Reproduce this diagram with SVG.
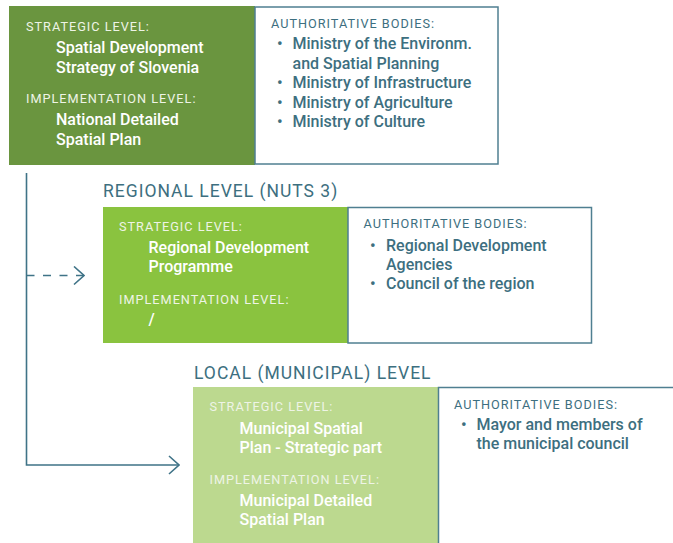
<svg xmlns="http://www.w3.org/2000/svg" width="673" height="543" viewBox="0 0 673 543">
<defs>
<style>
.lbl{font-family:Roboto,"Liberation Sans",sans-serif;font-size:12.7px;fill:#eef4e6;letter-spacing:1px}
.main{font-family:Roboto,"Liberation Sans",sans-serif;font-size:16px;font-weight:500;fill:#ffffff}
.alb{font-family:Roboto,"Liberation Sans",sans-serif;font-size:12.7px;fill:#3d6f80;letter-spacing:1px}
.auth{font-family:Roboto,"Liberation Sans",sans-serif;font-size:16px;font-weight:500;fill:#3d6f80}
.ttl{font-family:Roboto,"Liberation Sans",sans-serif;font-size:17.5px;fill:#3d6f80;letter-spacing:1px}
.wbox{fill:#ffffff;stroke:#4f7f91;stroke-width:1.5}
.conn{fill:none;stroke:#3f7387;stroke-width:1.6}
</style>
<marker id="chev" viewBox="0 0 12 20" refX="11" refY="10" markerWidth="12" markerHeight="20" markerUnits="userSpaceOnUse" orient="auto">
<path d="M1,1 L11,10 L1,19" fill="none" stroke="#3f7387" stroke-width="1.6"/>
</marker>
</defs>
<rect width="673" height="543" fill="#ffffff"/>

<g id="connectors">
<path class="conn" d="M26.5,173 V465 H179" marker-end="url(#chev)"/>
<path class="conn" d="M26.5,275.5 H84" stroke-dasharray="8,8.5" marker-end="url(#chev)"/>
</g>

<g id="national">
<rect x="9" y="6" width="246" height="159" fill="#6a953f"/>
<rect class="wbox" x="255" y="7" width="243" height="157"/>
<text class="lbl" x="26" y="31">STRATEGIC LEVEL:</text>
<text class="main" x="56" y="53">Spatial Development</text>
<text class="main" x="56" y="72.5">Strategy of Slovenia</text>
<text class="lbl" x="26" y="103">IMPLEMENTATION LEVEL:</text>
<text class="main" x="56" y="125">National Detailed</text>
<text class="main" x="56" y="144.5">Spatial Plan</text>
<text class="alb" x="271" y="27.5">AUTHORITATIVE BODIES:</text>
<text class="auth" x="277" y="49">•</text>
<text class="auth" x="292.5" y="49">Ministry of the Environm.</text>
<text class="auth" x="292.5" y="68.5">and Spatial Planning</text>
<text class="auth" x="277" y="88">•</text>
<text class="auth" x="292.5" y="88">Ministry of Infrastructure</text>
<text class="auth" x="277" y="107.5">•</text>
<text class="auth" x="292.5" y="107.5">Ministry of Agriculture</text>
<text class="auth" x="277" y="126.5">•</text>
<text class="auth" x="292.5" y="126.5">Ministry of Culture</text>
</g>

<g id="regional">
<text class="ttl" x="103" y="197">REGIONAL LEVEL (NUTS 3)</text>
<rect x="103" y="207" width="245" height="136" fill="#8ac33f"/>
<rect class="wbox" x="348" y="207.5" width="243.5" height="135.5"/>
<text class="lbl" x="119" y="231">STRATEGIC LEVEL:</text>
<text class="main" x="148.5" y="252.5">Regional Development</text>
<text class="main" x="148.5" y="271.5">Programme</text>
<text class="lbl" x="119" y="304">IMPLEMENTATION LEVEL:</text>
<text class="main" x="148.5" y="325">/</text>
<text class="alb" x="363.5" y="227.5">AUTHORITATIVE BODIES:</text>
<text class="auth" x="370" y="250.5">•</text>
<text class="auth" x="386" y="250.5">Regional Development</text>
<text class="auth" x="386" y="269.5">Agencies</text>
<text class="auth" x="370" y="288.5">•</text>
<text class="auth" x="386" y="288.5">Council of the region</text>
</g>

<g id="local">
<text class="ttl" x="194" y="379">LOCAL (MUNICIPAL) LEVEL</text>
<rect x="193" y="387" width="245.5" height="160" fill="#bcd98f"/>
<rect class="wbox" x="438.5" y="387.5" width="240" height="160"/>
<text class="lbl" x="209.5" y="411">STRATEGIC LEVEL:</text>
<text class="main" x="239.5" y="434">Municipal Spatial</text>
<text class="main" x="239.5" y="452.5">Plan - Strategic part</text>
<text class="lbl" x="209.5" y="484">IMPLEMENTATION LEVEL:</text>
<text class="main" x="239.5" y="505.5">Municipal Detailed</text>
<text class="main" x="239.5" y="524.5">Spatial Plan</text>
<text class="alb" x="454" y="408.5">AUTHORITATIVE BODIES:</text>
<text class="auth" x="461" y="430">•</text>
<text class="auth" x="476.5" y="430">Mayor and members of</text>
<text class="auth" x="476.5" y="449">the municipal council</text>
</g>
</svg>
